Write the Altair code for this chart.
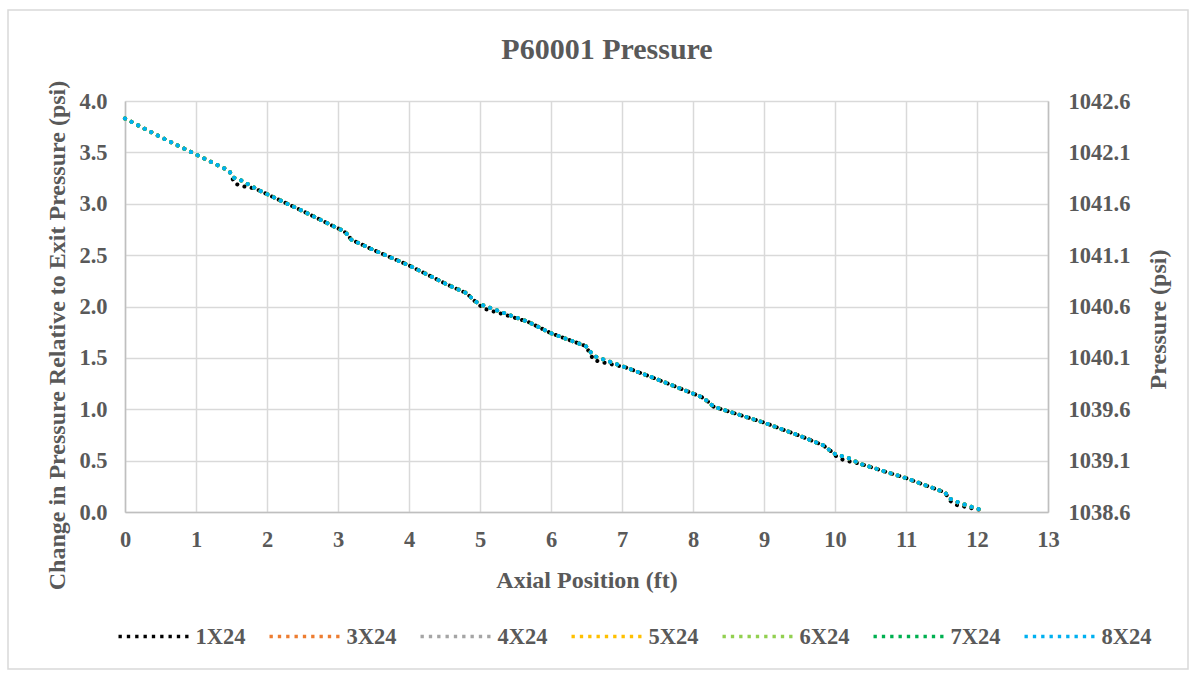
import altair as alt
import pandas as pd

# ---------------- data ----------------
series_names = ["1X24", "3X24", "4X24", "5X24", "6X24", "7X24", "8X24"]
series_colors = ["#000000", "#ED7D31", "#A5A5A5", "#FFC000", "#92D050", "#00B050", "#00B0F0"]

# coarse mesh (1X24) – deviates slightly just after each spacer step
x_1x24 = [0.0, 0.5, 1.0, 1.47, 1.51, 1.55, 1.66, 1.78, 1.89, 2.5, 3.0, 3.07, 3.12, 3.19,
          3.5, 4.0, 4.55, 4.81, 4.93, 5.05, 5.2, 5.35, 5.68, 6.0, 6.49, 6.6, 6.7, 6.9,
          7.04, 7.39, 8.12, 8.22, 8.29, 9.0, 9.51, 9.83, 9.93, 10.0, 10.12, 10.35, 11.0,
          11.55, 11.62, 11.7, 11.8, 11.9, 12.06, 12.1]
dp_1x24 = [3.83, 3.65, 3.48, 3.32, 3.25, 3.195, 3.17, 3.155, 3.13, 2.93, 2.76, 2.74, 2.71, 2.65,
           2.55, 2.40, 2.21, 2.13, 2.05, 1.98, 1.95, 1.92, 1.85, 1.74, 1.615, 1.48, 1.46, 1.43,
           1.41, 1.32, 1.12, 1.07, 1.025, 0.87, 0.74, 0.65, 0.60, 0.55, 0.505, 0.47, 0.33,
           0.19, 0.11, 0.07, 0.055, 0.04, 0.02, 0.01]

# finer meshes (3X24 ... 8X24) – curves coincide
x_fine = [0.0, 0.5, 1.0, 1.47, 1.51, 1.63, 1.89, 2.5, 3.0, 3.07, 3.12, 3.19, 3.5, 4.0,
          4.55, 4.81, 4.93, 5.05, 5.68, 6.0, 6.49, 6.6, 6.72, 7.04, 7.39, 8.12, 8.22, 8.29,
          9.0, 9.51, 9.83, 9.93, 9.98, 10.21, 10.35, 11.0, 11.55, 11.62, 11.75, 12.06, 12.1]
dp_fine = [3.83, 3.65, 3.48, 3.32, 3.26, 3.23, 3.13, 2.93, 2.76, 2.74, 2.71, 2.65, 2.55, 2.40,
           2.21, 2.13, 2.05, 2.01, 1.85, 1.74, 1.615, 1.52, 1.49, 1.41, 1.32, 1.12, 1.07, 1.025,
           0.87, 0.74, 0.65, 0.60, 0.57, 0.52, 0.47, 0.33, 0.19, 0.13, 0.09, 0.02, 0.01]

exit_pressure = 1038.6

x_ticks = list(range(0, 14))
left_ticks = [0.0, 0.5, 1.0, 1.5, 2.0, 2.5, 3.0, 3.5, 4.0]
right_ticks = [1038.6, 1039.1, 1039.6, 1040.1, 1040.6, 1041.1, 1041.6, 1042.1, 1042.6]

chart_title = "P60001 Pressure"

rows = []
for name in series_names:
    xs, ys = (x_1x24, dp_1x24) if name == "1X24" else (x_fine, dp_fine)
    for i, (xv, yv) in enumerate(zip(xs, ys)):
        rows.append({"series": name, "x": xv, "dp": yv, "p": yv + exit_pressure, "idx": i})
df = pd.DataFrame(rows)

# ---------------- style ----------------
FONT = "Liberation Serif"
GRAY = "#595959"
GRID = "#D9D9D9"
W, H = 923, 411
PAD = {"left": 125, "top": 101, "right": 1196 - 125 - W, "bottom": 677 - 101 - H}

# dotted legend glyph: 9 short stroked segments across the -1..1 symbol box
dot_path = "".join(f"M{-1 + k * 0.25 - 0.05:.3f},0h0.1" for k in range(9))

base = alt.Chart(df)

lines = base.mark_line(strokeDash=[0.1, 7.3], strokeCap="round", strokeWidth=4).encode(
    x=alt.X("x:Q",
            scale=alt.Scale(domain=[0, 13], nice=False),
            axis=alt.Axis(values=x_ticks, format="d", title="Axial Position (ft)",
                          labelPadding=16, labelFlush=False, titleY=68, titleBaseline="middle")),
    y=alt.Y("dp:Q",
            scale=alt.Scale(domain=[0, 4], nice=False),
            axis=alt.Axis(values=left_ticks, format=".1f",
                          title="Change in Pressure Relative to Exit Pressure (psi)",
                          labelPadding=18, labelFlush=False, titleAngle=270, titleX=-68,
                          titleY=234, titleAlign="center", titleBaseline="middle")),
    color=alt.Color("series:N",
                    scale=alt.Scale(domain=series_names, range=series_colors),
                    sort=series_names,
                    legend=alt.Legend(title=None, orient="none", direction="horizontal",
                                      columns=7, legendX=-7, legendY=500,
                                      symbolType=dot_path, symbolSize=4444,
                                      symbolStrokeWidth=3.6, symbolDash=[10, 0],
                                      labelOffset=6.5, columnPadding=16,
                                      labelFont=FONT, labelFontSize=22.5,
                                      labelFontWeight="bold", labelColor=GRAY)),
    order="idx:Q",
)

right = base.mark_line(opacity=0).encode(
    x=alt.X("x:Q"),
    y=alt.Y("p:Q",
            scale=alt.Scale(domain=[1038.6, 1042.6], nice=False, zero=False),
            axis=alt.Axis(orient="right", values=right_ticks, format=".1f",
                          title="Pressure (psi)", grid=False, labelPadding=20,
                          labelFlush=False, titleAngle=270, titleX=110, titleY=218,
                          titleAlign="center", titleBaseline="middle")),
    detail="series:N",
    order="idx:Q",
)

one_row = alt.Data(values=[{}])

frame = alt.Chart(one_row).mark_rect(
    fillOpacity=0, stroke=GRID, strokeWidth=1.5
).encode(
    x=alt.value(8 - PAD["left"]), x2=alt.value(1188 - PAD["left"]),
    y=alt.value(10 - PAD["top"]), y2=alt.value(669 - PAD["top"]),
)

title = alt.Chart(one_row).mark_text(
    font=FONT, fontSize=30, fontWeight="bold", color=GRAY, align="center", baseline="middle"
).encode(
    x=alt.value(607 - PAD["left"]), y=alt.value(50 - PAD["top"]), text=alt.value(chart_title),
)

chart = alt.layer(lines, right, frame, title).resolve_scale(y="independent").properties(
    width=W, height=H,
    padding=PAD,
    autosize=alt.AutoSizeParams(type="none"),
).configure_axis(
    labelFont=FONT, labelFontSize=22.5, labelFontWeight="bold", labelColor=GRAY,
    titleFont=FONT, titleFontSize=24, titleFontWeight="bold", titleColor=GRAY,
    ticks=False, domainColor="#BFBFBF", domainWidth=1.5,
    gridColor=GRID, gridWidth=1.5,
).configure_view(stroke=None)

chart.save("out.html", embed_options={"renderer": "svg", "actions": False})
